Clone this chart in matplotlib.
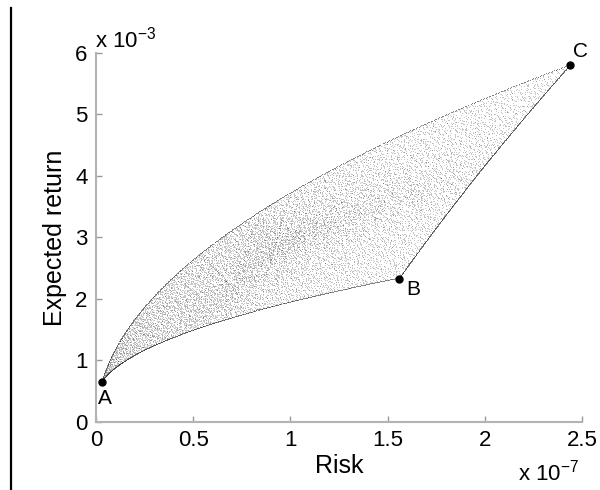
import numpy as np
import matplotlib
matplotlib.use("Agg")
import matplotlib.pyplot as plt
from matplotlib.lines import Line2D

plt.rcParams['font.family'] = ['Liberation Sans', 'DejaVu Sans']
plt.rcParams['mathtext.default'] = 'regular'

# three assets (risk in units of 1e-7, return in units of 1e-3)
asset_names = ['A', 'B', 'C']
asset_risk = [0.03, 1.56, 2.44]
asset_return = [0.65, 2.33, 5.80]
n_uniform = 9000
n_center = 4000
n_edge = 500

x_ticks = [0, 0.5, 1, 1.5, 2, 2.5]
x_ticklabels = ['0', '0.5', '1', '1.5', '2', '2.5']
y_ticks = [0, 1, 2, 3, 4, 5, 6]


def halton(n, base):
    # van der Corput sequence, deterministic
    out = np.zeros(n)
    for k in range(n):
        f, r, i = 1.0, 0.0, k + 1
        while i > 0:
            f /= base
            r += f * (i % base)
            i //= base
        out[k] = r
    return out


# portfolio weights spread over the simplex
r1 = halton(n_uniform, 2)
r2 = halton(n_uniform, 3)
s = np.sqrt(r1)
w_uni = np.column_stack([1 - s, s * (1 - r2), s * r2])

# weights from normalised draws -> denser near the equal-weight portfolio
u = np.column_stack([halton(n_center, 5), halton(n_center, 7), halton(n_center, 11)])
w_cen = u / u.sum(axis=1, keepdims=True)
w_in = np.vstack([w_uni, w_cen])

# two-asset portfolios along the edges
t = halton(n_edge, 2)
edges = []
for i, j in [(0, 1), (0, 2), (1, 2)]:
    we = np.zeros((n_edge, 3))
    we[:, i] = 1 - t
    we[:, j] = t
    edges.append(we)
w_edge = np.vstack(edges)

sd = np.sqrt(np.array(asset_risk))
mu = np.array(asset_return)

fig = plt.figure(figsize=(6, 4.9), dpi=100)
ax = fig.add_axes([0.16, 0.139, 0.81, 0.753])

ax.plot((w_in @ sd) ** 2, w_in @ mu, ',', color='0.25', alpha=0.3)
ax.plot((w_edge @ sd) ** 2, w_edge @ mu, ',', color='0.2', alpha=0.6)
ax.plot(asset_risk, asset_return, 'o', color='k', markersize=5)

ax.text(asset_risk[0] + 0.015, asset_return[0] - 0.27, 'A', fontsize=15, ha='center', va='center')
ax.text(asset_risk[1] + 0.07, asset_return[1] - 0.18, 'B', fontsize=15, ha='center', va='center')
ax.text(asset_risk[2] + 0.05, asset_return[2] + 0.22, 'C', fontsize=15, ha='center', va='center',
        clip_on=False)

ax.set_xlim(0, 2.5)
ax.set_ylim(0, 6)
ax.set_xticks(x_ticks)
ax.set_xticklabels(x_ticklabels)
ax.set_yticks(y_ticks)
ax.tick_params(direction='in', length=4, width=1, color='0.6', labelsize=16, pad=6)
for sp in ['top', 'right']:
    ax.spines[sp].set_visible(False)
for sp in ['left', 'bottom']:
    ax.spines[sp].set_color('0.7')
    ax.spines[sp].set_linewidth(1.5)

ax.set_xlabel('Risk', fontsize=18, labelpad=2)
ax.set_ylabel('Expected return', fontsize=18, labelpad=6)

fig.text(0.158, 0.904, 'x 10$^{-3}$', fontsize=16, ha='left', va='baseline')
fig.text(0.965, 0.02, 'x 10$^{-7}$', fontsize=16, ha='right', va='baseline')

# scan border at the left edge of the page
fig.add_artist(Line2D([0.019, 0.019], [0, 0.984], transform=fig.transFigure, color='k', linewidth=1.6))

fig.savefig('out.png', dpi=100)
